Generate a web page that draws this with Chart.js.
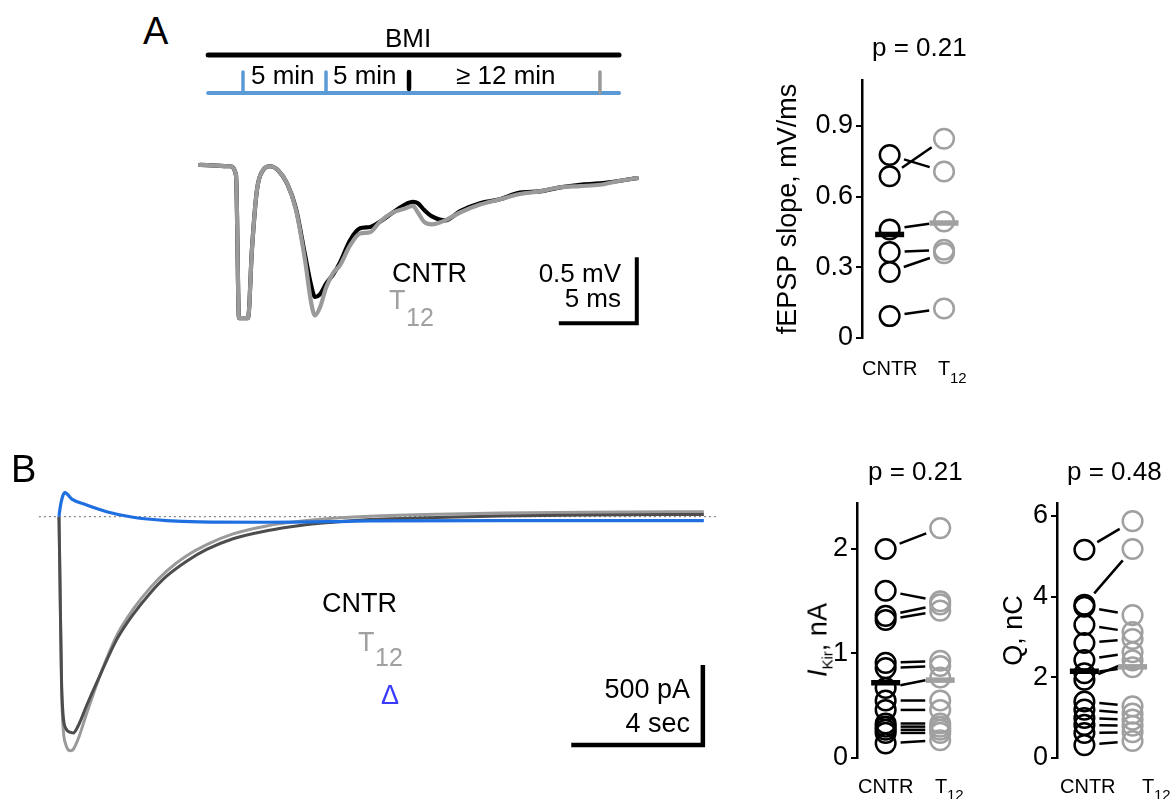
<!DOCTYPE html>
<html><head><meta charset="utf-8">
<script src="https://cdn.jsdelivr.net/npm/chart.js@4.4.0/dist/chart.umd.min.js"></script>
<style>
html,body{margin:0;padding:0;background:#fff;overflow:hidden;}
#fig{position:relative;width:1175px;height:799px;overflow:hidden;font-family:'Liberation Sans',Arial,sans-serif;color:#000;}
#fig canvas{position:absolute;}
.t{position:absolute;line-height:1;white-space:nowrap;}
.r{position:absolute;line-height:1;white-space:nowrap;text-align:right;}
</style></head><body><div id="fig">
<canvas id="cTimeline" width="430" height="90" style="left:200px;top:20px;width:430px;height:90px"></canvas>
<canvas id="cTraceA" width="460" height="200" style="left:190px;top:140px;width:460px;height:200px"></canvas>
<canvas id="cSlope" width="260" height="310" style="left:740px;top:60px;width:260px;height:310px"></canvas>
<canvas id="cTraceB" width="710" height="290" style="left:20px;top:480px;width:710px;height:290px"></canvas>
<canvas id="cIkir" width="220" height="310" style="left:780px;top:480px;width:220px;height:310px"></canvas>
<canvas id="cQ" width="185" height="310" style="left:990px;top:480px;width:185px;height:310px"></canvas>

<div class="t" style="left:143px;top:12px;font-size:38px">A</div>
<div class="t" style="left:11px;top:450px;font-size:38px">B</div>
<div class="t" style="left:408px;top:25px;font-size:26px;transform:translateX(-50%)">BMI</div>
<div class="t" style="left:251px;top:62px;font-size:26px">5 min</div>
<div class="t" style="left:333px;top:62px;font-size:26px">5 min</div>
<div class="t" style="left:456px;top:62px;font-size:26px">≥ 12 min</div>

<div class="t" style="left:392px;top:260px;font-size:27px">CNTR</div>
<div class="t" style="left:389px;top:287px;font-size:27px;color:#a0a0a0">T</div>
<div class="t" style="left:406px;top:305px;font-size:25px;color:#a0a0a0">12</div>
<div class="r" style="right:554px;top:260px;font-size:26px">0.5 mV</div>
<div class="r" style="right:554px;top:285px;font-size:26px">5 ms</div>

<div class="t" style="left:872px;top:34px;font-size:26px">p = 0.21</div>
<div class="t" style="left:862px;top:358px;font-size:20px">CNTR</div>
<div class="t" style="left:938px;top:358px;font-size:20px">T</div>
<div class="t" style="left:950px;top:370px;font-size:15px">12</div>

<div class="t" style="left:868px;top:458px;font-size:26px">p = 0.21</div>
<div class="t" style="left:1067px;top:458px;font-size:26px">p = 0.48</div>

<div class="t" style="left:322px;top:590px;font-size:27px">CNTR</div>
<div class="t" style="left:358px;top:629px;font-size:27px;color:#a0a0a0">T</div>
<div class="t" style="left:375px;top:645px;font-size:25px;color:#a0a0a0">12</div>
<div class="t" style="left:381px;top:682px;font-size:27px;color:#3a3aff">Δ</div>
<div class="r" style="right:485px;top:676px;font-size:27px">500 pA</div>
<div class="r" style="right:485px;top:710px;font-size:27px">4 sec</div>

<div class="t" style="left:818px;top:640px;font-size:27px;transform:translate(-50%,-50%) rotate(-90deg)"><i>I</i><span style="font-size:15px;position:relative;top:6px">Kir</span>, nA</div>

<div class="t" style="left:858px;top:776px;font-size:20px">CNTR</div>
<div class="t" style="left:935px;top:776px;font-size:20px">T</div>
<div class="t" style="left:947px;top:787px;font-size:15px">12</div>
<div class="t" style="left:1060px;top:776px;font-size:20px">CNTR</div>
<div class="t" style="left:1142px;top:776px;font-size:20px">T</div>
<div class="t" style="left:1154px;top:787px;font-size:15px">12</div>
</div>
<script>
// ---------------- DATA ----------------
// Timeline (minutes): perfusion marks, CNTR recording, T12 recording
const timelineEventsMin = [0, 5, 10, 21.5];

// Panel A: fEPSP traces (time in ms, voltage in mV)
const aTimeMs = [0, 1.92, 2.31, 2.5, 3.08, 3.33, 3.65, 4.04, 4.49, 5.0, 5.58, 6.15, 6.73, 7.12, 7.37, 7.69, 8.08, 8.53, 8.97, 9.62, 10.26, 10.9, 11.54, 12.37, 13.14, 13.65, 13.97, 14.36, 14.87, 15.71, 16.67, 17.95, 19.23, 20.51, 21.79, 23.08, 24.36, 25.64, 26.92, 28.01];
const aCntrMv = [0, -0.01, -0.08, -1.16, -1.16, -0.64, -0.19, -0.04, -0.01, -0.04, -0.14, -0.33, -0.68, -0.91, -1.0, -0.98, -0.90, -0.83, -0.74, -0.57, -0.48, -0.47, -0.43, -0.36, -0.30, -0.28, -0.29, -0.34, -0.39, -0.42, -0.35, -0.29, -0.26, -0.21, -0.20, -0.17, -0.15, -0.14, -0.12, -0.10];
const aT12Mv = [0, -0.01, -0.08, -1.16, -1.16, -0.64, -0.19, -0.04, -0.01, -0.04, -0.14, -0.34, -0.72, -1.04, -1.14, -1.08, -0.93, -0.82, -0.76, -0.61, -0.52, -0.51, -0.43, -0.36, -0.33, -0.31, -0.36, -0.43, -0.45, -0.42, -0.36, -0.30, -0.26, -0.22, -0.20, -0.17, -0.16, -0.15, -0.12, -0.10];

// Panel A: fEPSP slope (mV/ms), paired by index
const slopeCntr = [0.776, 0.686, 0.46, 0.364, 0.28, 0.093];
const slopeT12 = [0.706, 0.845, 0.494, 0.374, 0.36, 0.125];
const slopeMean = [0.439, 0.4875];
const slopeTicks = [0, 0.3, 0.6, 0.9];

// Panel B: Kir currents (time in s, current in pA)
const bTimeS = [0, 0.03, 0.08, 0.2, 0.36, 0.43, 0.6, 0.84, 1.25, 1.75, 2.25, 2.77, 3.27, 3.88, 4.49, 5.29, 6.31, 7.33, 8.33, 9.45, 11.5, 13.4, 16, 19.6];
const bCntrPa = [0, -400, -1050, -1320, -1348, -1352, -1300, -1180, -990, -770, -612, -478, -372, -278, -205, -138, -88, -55, -35, -18, -5, 4, 10, 14];
const bT12Pa = [0, -400, -1100, -1420, -1462, -1455, -1380, -1230, -990, -745, -580, -445, -340, -245, -175, -108, -58, -28, -10, 2, 15, 23, 28, 31];
const bDeltaTimeS = [0, 0.03, 0.1, 0.18, 0.39, 0.84, 1.45, 2.25, 3.27, 4.26, 6.31, 8.33, 9.45, 13.4, 19.6];
const bDeltaPa = [0, 50, 120, 150, 110, 73, 31, -4, -25, -33, -35, -31, -27, -25, -25];

// Panel B: I_Kir (nA) and Q (nC), paired by index
const ikirCntr = [2.0, 1.60, 1.36, 1.32, 0.91, 0.86, 0.67, 0.55, 0.46, 0.33, 0.30, 0.27, 0.24, 0.14];
const ikirT12 = [2.2, 1.50, 1.47, 1.41, 0.93, 0.88, 0.77, 0.55, 0.46, 0.33, 0.30, 0.27, 0.24, 0.17];
const ikirMean = [0.72, 0.745];
const ikirTicks = [0, 1, 2];
const qCntr = [5.16, 3.80, 3.75, 3.30, 2.85, 2.43, 2.10, 1.94, 1.40, 1.20, 0.99, 0.82, 0.62, 0.32];
const qT12 = [5.87, 5.18, 3.54, 3.12, 2.95, 2.62, 2.25, 2.42, 1.28, 1.10, 0.95, 0.80, 0.64, 0.42];
const qMean = [2.15, 2.26];
const qTicks = [0, 2, 4, 6];

// ---------------- CHARTS ----------------
Chart.defaults.font.family = "'Liberation Sans', Arial, sans-serif";
Chart.defaults.color = '#000';
const GRAY = '#a0a0a0';
const zip = (xs, ys) => xs.map((x, i) => ({x: x, y: ys[i]}));
const seg = (pts, color, width, order, extra) => Object.assign({
  data: pts, showLine: true, pointRadius: 0, borderColor: color, borderWidth: width,
  order: order, clip: false, tension: 0, borderCapStyle: 'butt', borderJoinStyle: 'miter'
}, extra || {});
const baseOpts = (xmin, xmax, ymin, ymax) => ({
  responsive: false, animation: false, events: [],
  layout: {padding: 0},
  plugins: {legend: {display: false}, tooltip: {enabled: false}},
  scales: {
    x: {type: 'linear', display: false, min: xmin, max: xmax},
    y: {type: 'linear', display: false, min: ymin, max: ymax}
  }
});

// Timeline schematic
(function () {
  const lvlTop = 55, lvlBase = 17, lvlTick = 38, start = -2.1, end = 22.65;
  const colors = ['#5b9bd5', '#5b9bd5', '#000', '#999'];
  const ds = [
    seg([{x: start, y: lvlTop}, {x: end, y: lvlTop}], '#000', 5, 2, {borderCapStyle: 'round'}),
    seg([{x: start, y: lvlBase}, {x: end, y: lvlBase}], '#5b9bd5', 4, 2, {borderCapStyle: 'round'})
  ];
  timelineEventsMin.forEach((e, i) => {
    const low = colors[i] === '#000' ? 21 : lvlBase;
    ds.push(seg([{x: e, y: low}, {x: e, y: lvlTick}], colors[i], i === 2 ? 4.5 : 3.5, 1, {borderCapStyle: 'round'}));
  });
  new Chart(document.getElementById('cTimeline'), {
    type: 'scatter', data: {datasets: ds}, options: baseOpts(-2.59, 23.31, 0, 90)
  });
})();

// Panel A traces
new Chart(document.getElementById('cTraceA'), {
  type: 'scatter',
  data: {datasets: [
    seg([{x: 23, y: -1.2}, {x: 28, y: -1.2}, {x: 28, y: -0.7}], '#000', 4, 0),
    seg(zip(aTimeMs, aT12Mv), '#9a9a9a', 4.2, 1, {cubicInterpolationMode: 'monotone', borderJoinStyle: 'round', borderCapStyle: 'round'}),
    seg(zip(aTimeMs, aCntrMv), '#000', 4.2, 2, {cubicInterpolationMode: 'monotone', borderJoinStyle: 'round', borderCapStyle: 'round'})
  ]},
  options: baseOpts(-0.641, 28.846, -1.326, 0.189)
});

// Panel B traces
new Chart(document.getElementById('cTraceB'), {
  type: 'scatter',
  data: {datasets: [
    seg([{x: 15.57, y: -1427}, {x: 19.57, y: -1427}, {x: 19.57, y: -927}], '#000', 4.5, 0),
    seg(zip(bDeltaTimeS, bDeltaPa), '#1f6fe0', 3.2, 1, {cubicInterpolationMode: 'monotone', borderJoinStyle: 'round'}),
    seg(zip(bTimeS, bCntrPa), '#4d4d4d', 3, 2, {cubicInterpolationMode: 'monotone', borderJoinStyle: 'round'}),
    seg(zip(bTimeS, bT12Pa), '#9a9a9a', 3, 3, {cubicInterpolationMode: 'monotone', borderJoinStyle: 'round'}),
    seg([{x: -0.61, y: 0}, {x: 20.0, y: 0}], '#888', 1.2, 4, {borderDash: [2, 3]})
  ]},
  options: baseOpts(-1.185, 20.395, -1583, 229)
});

// Paired-line plugin: joins CNTR[i] to T12[i], trimmed by a gap near each circle
const pairLines = {
  id: 'pairLines',
  beforeDatasetsDraw(chart, args, opts) {
    const a = chart.data.datasets[0].data, b = chart.data.datasets[1].data;
    const xs = chart.scales.x, ys = chart.scales.y, ctx = chart.ctx;
    ctx.save();
    ctx.strokeStyle = '#000'; ctx.lineWidth = opts.width || 2.5; ctx.lineCap = 'butt';
    a.forEach((p, i) => {
      const q = b[i]; if (!q) return;
      const x0 = xs.getPixelForValue(p.x), y0 = ys.getPixelForValue(p.y);
      const x1 = xs.getPixelForValue(q.x), y1 = ys.getPixelForValue(q.y);
      const len = Math.hypot(x1 - x0, y1 - y0), ux = (x1 - x0) / len, uy = (y1 - y0) / len;
      const g = opts.gap || 15;
      ctx.beginPath();
      ctx.moveTo(x0 + ux * g, y0 + uy * g);
      ctx.lineTo(x1 - ux * g, y1 - uy * g);
      ctx.stroke();
    });
    ctx.restore();
  }
};

function pairedChart(id, o) {
  const circle = (vals, x, color) => ({
    data: vals.map(v => ({x: x, y: v})), pointRadius: 9.8, pointBorderWidth: 2.5,
    borderColor: color, backgroundColor: 'rgba(0,0,0,0)', pointBackgroundColor: 'rgba(0,0,0,0)',
    pointBorderColor: color, showLine: false, order: 2, clip: false
  });
  const bar = (v, x, color) => ({
    data: [{x: x, y: v}], pointStyle: 'line', pointRadius: 14.5, pointBorderWidth: 5.5,
    pointBorderColor: color, borderColor: color, showLine: false, order: 0, clip: false
  });
  return new Chart(document.getElementById(id), {
    type: 'scatter',
    data: {datasets: [
      circle(o.cntr, 0, '#000'),
      circle(o.t12, 1, GRAY),
      bar(o.mean[0], 0, '#000'),
      bar(o.mean[1], 1, GRAY)
    ]},
    plugins: [pairLines],
    options: {
      responsive: false, animation: false, events: [],
      layout: {padding: o.pad},
      plugins: {legend: {display: false}, tooltip: {enabled: false}, pairLines: {gap: 15, width: 2.5}},
      scales: {
        x: {type: 'linear', display: false, min: o.xmin, max: o.xmax},
        y: {
          type: 'linear', min: 0, max: o.ymax,
          afterBuildTicks: s => { s.ticks = o.ticks.map(v => ({value: v})); },
          afterFit: s => { s.width = o.axisW; },
          ticks: {font: {size: 27}, color: '#000', padding: 3, callback: v => String(v)},
          grid: {display: true, drawOnChartArea: false, drawTicks: true, tickLength: 6, color: '#000', lineWidth: 2},
          border: {display: true, color: '#000', width: 2.5},
          title: o.title ? {display: true, text: o.title, font: {size: 27}, color: '#000', padding: {top: o.titlePad, bottom: 0}} : {display: false}
        }
      }
    }
  });
}

pairedChart('cSlope', {
  cntr: slopeCntr, t12: slopeT12, mean: slopeMean, ticks: slopeTicks,
  ymax: 1.094, xmin: -0.508, xmax: 1.661, axisW: 122,
  pad: {top: 15, right: 10, bottom: 32, left: 0},
  title: 'fEPSP slope, mV/ms', titlePad: 32
});
pairedChart('cIkir', {
  cntr: ikirCntr, t12: ikirT12, mean: ikirMean, ticks: ikirTicks,
  ymax: 2.44, xmin: -0.525, xmax: 1.729, axisW: 77,
  pad: {top: 23, right: 10, bottom: 32, left: 0}
});
pairedChart('cQ', {
  cntr: qCntr, t12: qT12, mean: qMean, ticks: qTicks,
  ymax: 6.32, xmin: -0.569, xmax: 1.466, axisW: 67,
  pad: {top: 23, right: 0, bottom: 32, left: 0},
  title: 'Q, nC', titlePad: 8
});
</script>
</body></html>
